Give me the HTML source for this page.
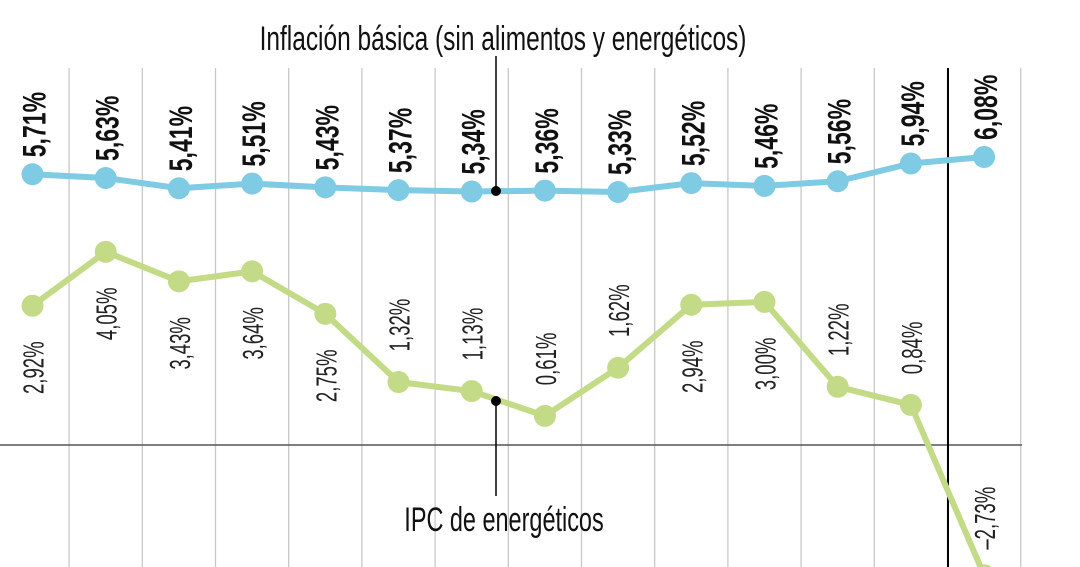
<!DOCTYPE html>
<html><head><meta charset="utf-8"><style>
html,body{margin:0;padding:0;background:#fff;width:1080px;height:567px;overflow:hidden}
svg{display:block;font-family:"Liberation Sans Narrow","Liberation Sans",sans-serif}
</style></head><body>
<svg id="c" width="1080" height="567"></svg>
<script>
const categories=["m1","m2","m3","m4","m5","m6","m7","m8","m9","m10","m11","m12","m13","m14"];
const coreValues=[5.71,5.63,5.41,5.51,5.43,5.37,5.34,5.36,5.33,5.52,5.46,5.56,5.94,6.08];
const energyValues=[2.92,4.05,3.43,3.64,2.75,1.32,1.13,0.61,1.62,2.94,3.00,1.22,0.84,-2.73];
const coreLabels=["5,71%","5,63%","5,41%","5,51%","5,43%","5,37%","5,34%","5,36%","5,33%","5,52%","5,46%","5,56%","5,94%","6,08%"];
const energyLabels=["2,92%","4,05%","3,43%","3,64%","2,75%","1,32%","1,13%","0,61%","1,62%","2,94%","3,00%","1,22%","0,84%","–2,73%"];

const NS="http://www.w3.org/2000/svg";
const svg=document.getElementById('c');
function mk(t,a,p){const e=document.createElementNS(NS,t);for(const k in a)e.setAttribute(k,a[k]);(p||svg).appendChild(e);return e;}
const step=73.2, x0=32.5;
const xs=i=>x0+i*step;
const yCore=v=>192-(v-5.33)*46.7;
const yEn=v=>445-v*47.7;

for(let i=0;i<categories.length;i++){
  const gx=xs(i)+step/2;
  if(gx>1030)continue;
  const g=mk('line',{x1:gx,x2:gx,y1:68,y2:567,stroke:'#c8c8c8','stroke-width':1.3});
  
  
}
const z=mk('line',{x1:0,x2:1022,y1:445,y2:445,stroke:'#555','stroke-width':1.5});


const vb=mk('line',{x1:948,x2:948,y1:68,y2:567,stroke:'#000','stroke-width':2});



function series(vals,yf,color,name){
  const pts=vals.map((v,i)=>xs(i)+','+yf(v)).join(' ');
  const pl=mk('polyline',{points:pts,fill:'none',stroke:color,'stroke-width':6,'stroke-linejoin':'round'});
  
  
  vals.forEach((v,i)=>{
    const c=mk('circle',{cx:xs(i),cy:yf(v),r:11,fill:color});
    
    
  });
}
series(coreValues,yCore,'#7ecbe3','core-inflation');
series(energyValues,yEn,'#c3da86','energy-ipc');

coreValues.forEach((v,i)=>{
  const x=xs(i)+13,y=yCore(v)-17;
  const t=mk('text',{x:0,y:0,transform:`translate(${x},${y}) rotate(-90) scale(0.72,1)`,'font-size':32,'font-weight':'bold',fill:'#111'});
  t.textContent=coreLabels[i];
  
  
});
energyValues.forEach((v,i)=>{
  const py=yEn(v);
  const cy=v<2?py-57:py+62;
  const x=xs(i)+11;
  const t=mk('text',{x:0,y:0,transform:`translate(${x},${cy}) rotate(-90) scale(0.64,1)`,'font-size':29,fill:'#222','text-anchor':'middle'});
  t.textContent=energyLabels[i];
  
  
});

const l1=mk('line',{x1:496,x2:496,y1:56,y2:191,stroke:'#000','stroke-width':1.5});


const d1=mk('circle',{cx:496,cy:191,r:5,fill:'#000'});


const t1=mk('text',{x:0,y:0,transform:'translate(503,50) scale(0.72,1)','font-size':34,'text-anchor':'middle',fill:'#111'});
t1.textContent='Inflación básica (sin alimentos y energéticos)';


const l2=mk('line',{x1:496,x2:496,y1:401,y2:496,stroke:'#000','stroke-width':1.5});


const d2=mk('circle',{cx:496,cy:401,r:5,fill:'#000'});


const t2=mk('text',{x:0,y:0,transform:'translate(504,531) scale(0.69,1)','font-size':34,'text-anchor':'middle',fill:'#111'});
t2.textContent='IPC de energéticos';


</script>
</body></html>
